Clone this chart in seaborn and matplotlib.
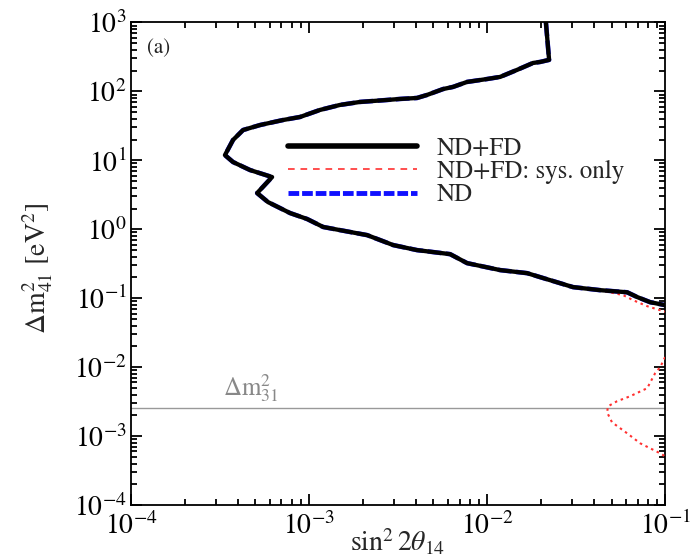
import numpy as np
import pandas as pd
import matplotlib
matplotlib.use("Agg")
import matplotlib.pyplot as plt
from matplotlib.lines import Line2D
from matplotlib.ticker import LogLocator, NullFormatter
import seaborn as sns

# ---------------- data ----------------
ndfd_x = [0.0214, 0.0223, 0.01986, 0.01811, 0.01475, 0.01184, 0.0100, 0.00772, 0.00644,
          0.00566, 0.00460, 0.00404, 0.00324, 0.00274, 0.00193, 0.00149, 0.00115, 0.000890,
          0.000714, 0.000531, 0.000426, 0.000374, 0.000337, 0.000374, 0.000466, 0.000620,
          0.000511, 0.000588, 0.000782, 0.000975, 0.00120, 0.00149, 0.00212, 0.00297,
          0.00404, 0.00620, 0.00772, 0.01184, 0.0168, 0.0199, 0.0304, 0.0431, 0.0612,
          0.0697, 0.0824, 0.1]
ndfd_y = [1000, 286, 267, 258, 205, 162, 151, 137, 116, 108, 88.7, 80.2, 77.6, 75.0, 70.2,
          63.5, 53.7, 42.5, 38.4, 32.5, 27.5, 19.7, 11.9, 9.45, 7.23, 5.72, 3.35, 2.48, 1.72,
          1.41, 1.08, 0.973, 0.823, 0.590, 0.499, 0.436, 0.323, 0.256, 0.231, 0.202, 0.145,
          0.131, 0.122, 0.104, 0.0877, 0.0794]

nd_x = [0.0214, 0.0223, 0.01986, 0.01811, 0.01475, 0.01184, 0.0100, 0.00772, 0.00644,
        0.00566, 0.00460, 0.00404, 0.00324, 0.00274, 0.00193, 0.00149, 0.00115, 0.000890,
        0.000714, 0.000531, 0.000426, 0.000374, 0.000337, 0.000374, 0.000466, 0.000620,
        0.000511, 0.000588, 0.000782, 0.000975, 0.00120, 0.00149, 0.00212, 0.00297,
        0.00404, 0.00620, 0.00772, 0.01184, 0.0168, 0.0199, 0.0304, 0.0431, 0.0612,
        0.0697, 0.0824, 0.1]
nd_y = [1000, 286, 267, 258, 205, 162, 151, 137, 116, 108, 88.7, 80.2, 77.6, 75.0, 70.2,
        63.5, 53.7, 42.5, 38.4, 32.5, 27.5, 19.7, 11.9, 9.45, 7.23, 5.72, 3.35, 2.48, 1.72,
        1.41, 1.08, 0.973, 0.823, 0.590, 0.499, 0.436, 0.323, 0.256, 0.231, 0.202, 0.145,
        0.131, 0.122, 0.104, 0.0877, 0.0794]

sys_upper_x = [0.0214, 0.0223, 0.01986, 0.01811, 0.01475, 0.01184, 0.0100, 0.00772, 0.00644,
               0.00566, 0.00460, 0.00404, 0.00324, 0.00274, 0.00193, 0.00149, 0.00115, 0.000890,
               0.000714, 0.000531, 0.000426, 0.000374, 0.000337, 0.000374, 0.000466, 0.000620,
               0.000511, 0.000588, 0.000782, 0.000975, 0.00120, 0.00149, 0.00212, 0.00297,
               0.00404, 0.00620, 0.00772, 0.01184, 0.0168, 0.0199, 0.0304, 0.0431, 0.0581,
               0.0661, 0.0793, 0.0938, 0.1]
sys_upper_y = [1000, 286, 267, 258, 205, 162, 151, 137, 116, 108, 88.7, 80.2, 77.6, 75.0, 70.2,
               63.5, 53.7, 42.5, 38.4, 32.5, 27.5, 19.7, 11.9, 9.45, 7.23, 5.72, 3.35, 2.48, 1.72,
               1.41, 1.08, 0.973, 0.823, 0.590, 0.499, 0.436, 0.323, 0.256, 0.231, 0.202, 0.145,
               0.131, 0.111, 0.0937, 0.0767, 0.0671, 0.064]

sys_lower_x = [0.1, 0.0938, 0.0879, 0.0793, 0.0636, 0.0537, 0.0478, 0.0472, 0.0503, 0.0612,
               0.0725, 0.0938, 0.1]
sys_lower_y = [0.0140, 0.0100, 0.00818, 0.00496, 0.00379, 0.00321, 0.00271, 0.00222, 0.00159,
               0.00110, 0.000787, 0.000564, 0.00051]

dm31 = 2.6e-3
x_ticks = [1e-4, 1e-3, 1e-2, 1e-1]
y_ticks = [1e-4, 1e-3, 1e-2, 1e-1, 1e0, 1e1, 1e2, 1e3]
legend_labels = ["ND+FD", "ND+FD: sys. only", "ND"]

# ---------------- style ----------------
sns.set_theme(style="ticks")
plt.rcParams["font.family"] = ["STIXGeneral", "Liberation Serif", "DejaVu Serif"]
plt.rcParams["mathtext.fontset"] = "stix"

fig = plt.figure(figsize=(6.95, 5.6), dpi=100)
ax = fig.add_axes([0.1885, 0.098, 0.7685, 0.862])

df_nd = pd.DataFrame({"x": nd_x, "y": nd_y})
df_ndfd = pd.DataFrame({"x": ndfd_x, "y": ndfd_y})
df_su = pd.DataFrame({"x": sys_upper_x, "y": sys_upper_y})
df_sl = pd.DataFrame({"x": sys_lower_x, "y": sys_lower_y})

sns.lineplot(data=df_nd, x="x", y="y", sort=False, estimator=None, ax=ax,
             color="#2020ff", lw=3.3, linestyle=(0, (3, 1)), zorder=2)
sns.lineplot(data=df_su, x="x", y="y", sort=False, estimator=None, ax=ax,
             color="#ff3030", lw=1.5, linestyle=(0, (1.2, 1.8)), zorder=3)
sns.lineplot(data=df_sl, x="x", y="y", sort=False, estimator=None, ax=ax,
             color="#ff3030", lw=1.5, linestyle=(0, (1.2, 1.8)), zorder=3)
sns.lineplot(data=df_ndfd, x="x", y="y", sort=False, estimator=None, ax=ax,
             color="black", lw=3.1, zorder=4)

ax.axhline(dm31, color="#999999", lw=1.0, zorder=1)
ax.text(3.3e-4, dm31 * 1.12, r"$\Delta\mathrm{m}^2_{31}$", color="#888888",
        fontsize=18, va="bottom", ha="left")
ax.text(0.03, 0.947, "(a)", transform=ax.transAxes, fontsize=15, va="center", ha="left",
        color="#222222")

ax.set_xscale("log")
ax.set_yscale("log")
ax.set_xlim(1e-4, 1e-1)
ax.set_ylim(1e-4, 1e3)
ax.xaxis.set_major_locator(LogLocator(base=10, numticks=20))
ax.yaxis.set_major_locator(LogLocator(base=10, numticks=20))
ax.xaxis.set_minor_locator(LogLocator(base=10, subs=np.arange(2, 10), numticks=100))
ax.yaxis.set_minor_locator(LogLocator(base=10, subs=np.arange(2, 10), numticks=100))
ax.xaxis.set_minor_formatter(NullFormatter())
ax.yaxis.set_minor_formatter(NullFormatter())
ax.set_xticks(x_ticks)
ax.set_yticks(y_ticks)

ax.tick_params(which="both", direction="in", top=True, right=True, width=1.3, colors="black")
ax.tick_params(which="major", length=8, labelsize=20, pad=3)
ax.tick_params(axis="x", which="major", pad=5)
ax.tick_params(which="minor", length=4.5)
for s in ax.spines.values():
    s.set_linewidth(1.3)
    s.set_color("black")

ax.set_xlabel(r"$\sin^2 2\theta_{14}$", fontsize=20)
ax.set_ylabel(r"$\Delta\mathrm{m}^2_{41}$ [eV$^2$]", fontsize=20)
ax.xaxis.set_label_coords(0.5, -0.045)
ax.yaxis.set_label_coords(-0.142, 0.49)

handles = [
    Line2D([], [], color="black", lw=4),
    Line2D([], [], color="#ff3030", lw=1.2, linestyle=(0, (4, 3.5))),
    Line2D([], [], color="#1010ff", lw=3.5, linestyle=(0, (2.2, 0.6))),
]
ax.legend(handles, legend_labels, loc="center left", bbox_to_anchor=(0.294, 0.690),
          frameon=False, fontsize=18, handlelength=5.16, handletextpad=0.8,
          labelspacing=-0.03, borderpad=0, borderaxespad=0)

fig.savefig("out.png", dpi=100)
